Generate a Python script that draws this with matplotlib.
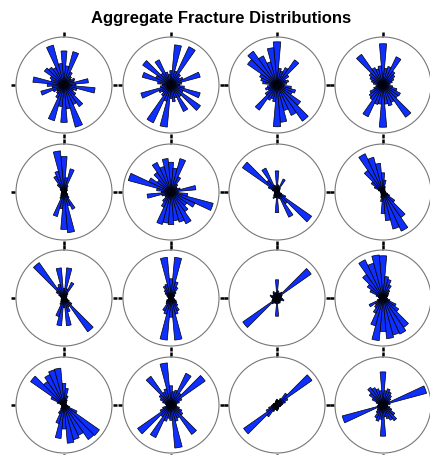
import numpy as np
import matplotlib
matplotlib.use("Agg")
import matplotlib.pyplot as plt

plt.rcParams['font.family'] = ['Liberation Sans', 'DejaVu Sans']

# bin centres in degrees, clockwise from north
bins = np.arange(0, 360, 10)

# relative frequency in each 10 degree bin, one list per site (row by row)
site01 = [0.71, 0.40, 0.72, 0.30, 0.22, 0.18, 0.25, 0.22, 0.51, 0.25, 0.65, 0.28,
          0.22, 0.30, 0.55, 0.45, 0.91, 0.50, 0.78, 0.45, 0.77, 0.30, 0.22, 0.18,
          0.25, 0.50, 0.25, 0.35, 0.65, 0.28, 0.32, 0.50, 0.45, 0.40, 0.86, 0.45]
site02 = [0.30, 0.84, 0.30, 0.88, 0.28, 0.22, 0.28, 0.63, 0.22, 0.18, 0.28, 0.63,
          0.28, 0.75, 0.30, 0.61, 0.28, 0.35, 0.28, 0.88, 0.35, 0.87, 0.28, 0.22,
          0.28, 0.65, 0.22, 0.18, 0.28, 0.62, 0.35, 0.72, 0.30, 0.58, 0.28, 0.22]
site03 = [0.90, 0.35, 0.30, 0.40, 0.64, 0.30, 0.20, 0.25, 0.20, 0.15, 0.30, 0.40,
          0.35, 0.60, 0.92, 0.70, 0.55, 0.78, 0.87, 0.35, 0.30, 0.35, 0.64, 0.30,
          0.20, 0.25, 0.20, 0.15, 0.30, 0.35, 0.40, 0.75, 0.86, 0.67, 0.50, 0.78]
site04 = [0.86, 0.35, 0.40, 0.65, 0.35, 0.30, 0.25, 0.20, 0.15, 0.12, 0.20, 0.30,
          0.40, 0.38, 0.82, 0.40, 0.45, 0.40, 0.88, 0.40, 0.42, 0.73, 0.38, 0.35,
          0.30, 0.20, 0.15, 0.12, 0.20, 0.25, 0.30, 0.35, 0.78, 0.40, 0.35, 0.40]
site05 = [0.74, 0.30, 0.50, 0.15, 0.10, 0.08, 0.08, 0.06, 0.05, 0.05, 0.05, 0.06,
          0.08, 0.10, 0.15, 0.40, 0.30, 0.85, 0.78, 0.35, 0.53, 0.15, 0.10, 0.08,
          0.07, 0.06, 0.05, 0.05, 0.05, 0.06, 0.08, 0.10, 0.20, 0.37, 0.45, 0.86]
site06 = [0.62, 0.50, 0.72, 0.35, 0.20, 0.15, 0.15, 0.20, 0.52, 0.15, 0.35, 0.91,
          0.55, 0.40, 0.50, 0.73, 0.65, 0.60, 0.68, 0.65, 0.70, 0.35, 0.25, 0.15,
          0.15, 0.20, 0.50, 0.20, 0.30, 0.92, 0.51, 0.35, 0.50, 0.68, 0.55, 0.70]
site07 = [0.44, 0.15, 0.12, 0.30, 0.10, 0.08, 0.06, 0.06, 0.05, 0.05, 0.06, 0.10,
          0.20, 0.88, 0.30, 0.58, 0.15, 0.12, 0.43, 0.12, 0.12, 0.15, 0.10, 0.08,
          0.06, 0.06, 0.05, 0.05, 0.06, 0.10, 0.20, 0.88, 0.30, 0.55, 0.15, 0.12]
site08 = [0.40, 0.25, 0.12, 0.08, 0.06, 0.05, 0.05, 0.05, 0.05, 0.05, 0.06, 0.10,
          0.15, 0.30, 0.65, 0.90, 0.80, 0.60, 0.45, 0.20, 0.12, 0.08, 0.06, 0.05,
          0.05, 0.05, 0.05, 0.05, 0.06, 0.10, 0.20, 0.30, 0.55, 0.88, 0.75, 0.60]
site09 = [0.20, 0.63, 0.20, 0.36, 0.12, 0.08, 0.07, 0.06, 0.05, 0.05, 0.06, 0.08,
          0.12, 0.20, 0.86, 0.20, 0.30, 0.58, 0.20, 0.58, 0.40, 0.15, 0.10, 0.08,
          0.07, 0.06, 0.05, 0.05, 0.06, 0.08, 0.12, 0.20, 0.90, 0.25, 0.30, 0.63]
site10 = [0.40, 0.85, 0.35, 0.25, 0.15, 0.10, 0.08, 0.06, 0.05, 0.05, 0.06, 0.08,
          0.12, 0.15, 0.20, 0.30, 0.35, 0.88, 0.40, 0.88, 0.35, 0.30, 0.15, 0.12,
          0.10, 0.06, 0.05, 0.05, 0.06, 0.08, 0.10, 0.15, 0.20, 0.28, 0.30, 0.85]
site11 = [0.38, 0.15, 0.10, 0.12, 0.15, 0.87, 0.12, 0.10, 0.08, 0.10, 0.12, 0.15,
          0.10, 0.08, 0.10, 0.12, 0.10, 0.12, 0.38, 0.12, 0.10, 0.12, 0.15, 0.87,
          0.12, 0.10, 0.08, 0.10, 0.12, 0.15, 0.10, 0.08, 0.12, 0.15, 0.10, 0.12]
site12 = [0.88, 0.45, 0.40, 0.30, 0.20, 0.15, 0.12, 0.10, 0.08, 0.08, 0.10, 0.15,
          0.30, 0.40, 0.75, 0.83, 0.80, 0.85, 0.70, 0.89, 0.60, 0.35, 0.25, 0.20,
          0.32, 0.12, 0.08, 0.08, 0.10, 0.15, 0.30, 0.40, 0.60, 0.88, 0.75, 0.90]
site13 = [0.45, 0.35, 0.20, 0.12, 0.08, 0.06, 0.05, 0.05, 0.05, 0.06, 0.08, 0.12,
          0.30, 0.90, 0.88, 0.70, 0.75, 0.80, 0.50, 0.70, 0.40, 0.20, 0.10, 0.07,
          0.05, 0.05, 0.05, 0.06, 0.08, 0.15, 0.30, 0.85, 0.60, 0.70, 0.76, 0.77]
site14 = [0.40, 0.28, 0.32, 0.73, 0.30, 0.87, 0.25, 0.18, 0.12, 0.10, 0.12, 0.18,
          0.25, 0.30, 0.75, 0.30, 0.35, 0.90, 0.32, 0.28, 0.35, 0.75, 0.30, 0.85,
          0.25, 0.18, 0.10, 0.10, 0.12, 0.18, 0.25, 0.30, 0.73, 0.30, 0.35, 0.88]
site15 = [0.12, 0.10, 0.10, 0.15, 0.30, 0.89, 0.25, 0.18, 0.12, 0.10, 0.08, 0.08,
          0.06, 0.06, 0.06, 0.06, 0.08, 0.10, 0.12, 0.10, 0.10, 0.15, 0.30, 0.85,
          0.25, 0.18, 0.12, 0.10, 0.08, 0.08, 0.06, 0.06, 0.06, 0.06, 0.08, 0.10]
site16 = [0.69, 0.30, 0.35, 0.30, 0.25, 0.20, 0.15, 0.94, 0.15, 0.10, 0.10, 0.15,
          0.20, 0.30, 0.40, 0.35, 0.30, 0.25, 0.65, 0.30, 0.35, 0.30, 0.20, 0.15,
          0.12, 0.88, 0.12, 0.10, 0.10, 0.15, 0.25, 0.35, 0.45, 0.40, 0.35, 0.30]

sites = [site01, site02, site03, site04,
         site05, site06, site07, site08,
         site09, site10, site11, site12,
         site13, site14, site15, site16]

W, H = 430, 455
fig = plt.figure(figsize=(W / 100, H / 100), dpi=100)

col_x = [64, 171, 277, 383]
row_y = [85, 192, 298, 405]
rad = 48

theta = np.deg2rad(bins)
width = np.deg2rad(10)
compass = np.deg2rad([0, 90, 180, 270])

for i, vals in enumerate(sites):
    cx = col_x[i % 4]
    cy = row_y[i // 4]
    ax = fig.add_axes([(cx - rad) / W, 1 - (cy + rad) / H, 2 * rad / W, 2 * rad / H],
                      projection='polar')
    ax.set_theta_zero_location('N')
    ax.set_theta_direction(-1)
    ax.bar(theta, vals, width=width, color='#0f2fff', edgecolor='black', linewidth=0.5)
    ax.set_ylim(0, 1)
    ax.set_yticks([])
    ax.set_xticks([])
    ax.grid(False)
    # small compass ticks just outside the rim
    for a in compass:
        ax.plot([a, a], [1.02, 1.10], color='black', lw=1.8,
                solid_capstyle='butt', clip_on=False)
    ax.spines['polar'].set_color('#777777')
    ax.spines['polar'].set_linewidth(0.8)

fig.text(0.515, 1 - 18 / H, 'Aggregate Fracture Distributions',
         ha='center', va='center', fontsize=12, fontweight='bold')

fig.savefig('out.png', dpi=100)
